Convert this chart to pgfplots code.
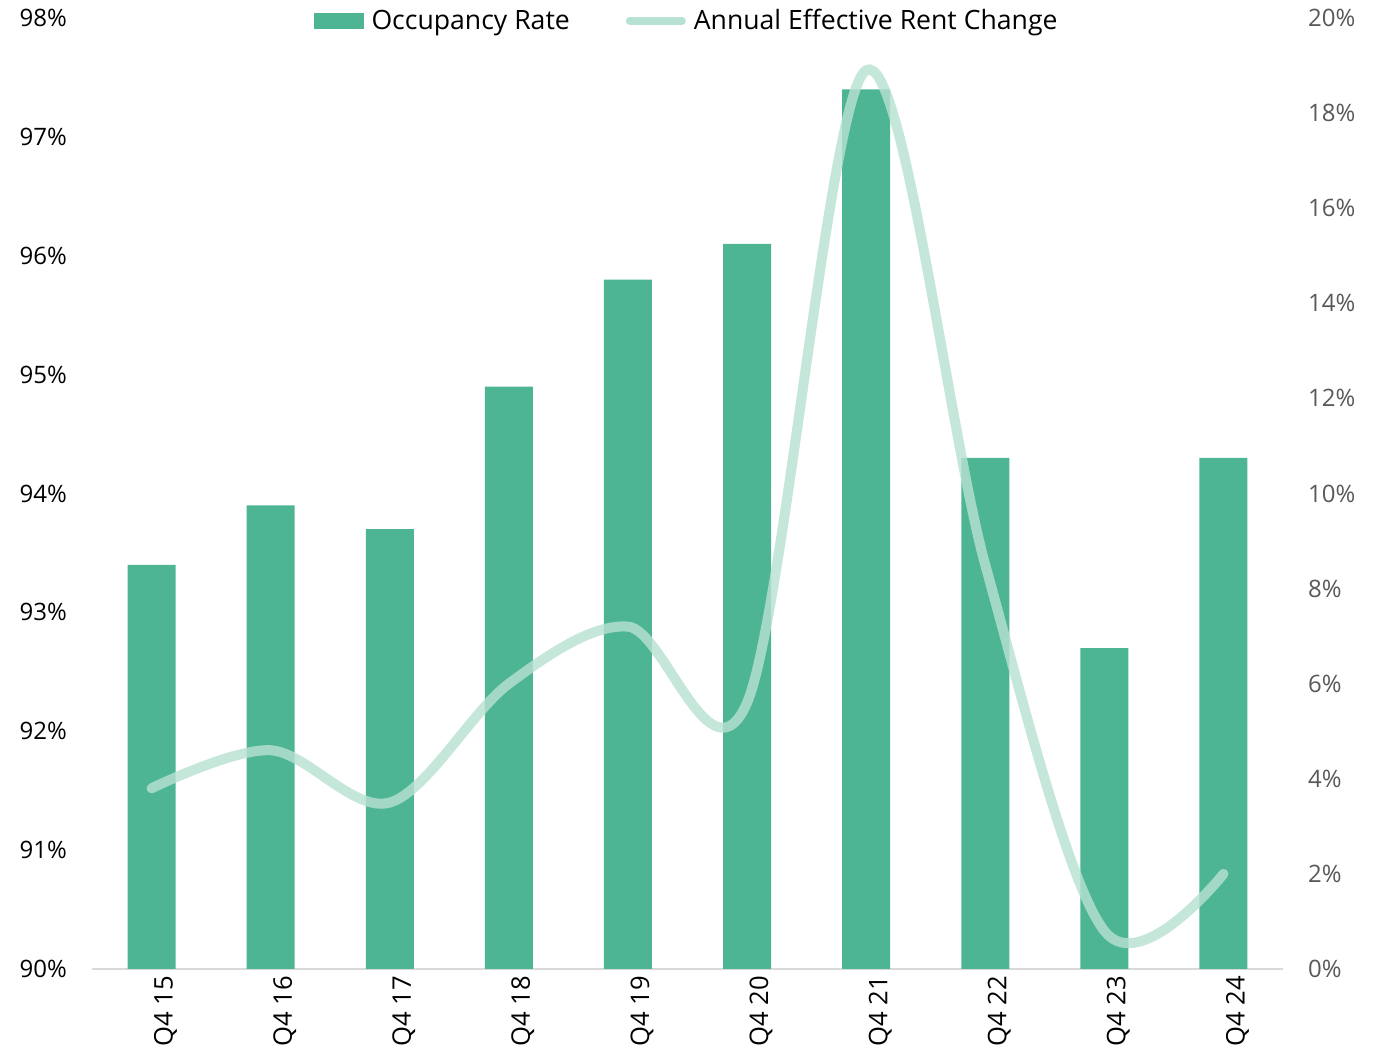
\documentclass[border=0pt]{standalone}
\usepackage{pgfplots}
\pgfplotsset{compat=1.18}
\usepackage{fontspec}
\setmainfont{Open Sans}
\definecolor{barc}{HTML}{4DB594}
\definecolor{linec}{HTML}{B7E1D2}
\definecolor{axgray}{HTML}{D9D9D9}
\definecolor{lblgray}{HTML}{595959}
\begin{document}
\begin{tikzpicture}
\pgfplotsset{
  every tick label/.append style={font=\fontsize{12}{14}\selectfont},
  /pgf/number format/assume math mode=true,
}
\begin{axis}[
  name=main,
  scale only axis,
  width=595.5pt, height=475.5pt,
  xmin=-0.5, xmax=9.5,
  ymin=90, ymax=98,
  xtick={0,...,9},
  xticklabels={Q4 15,Q4 16,Q4 17,Q4 18,Q4 19,Q4 20,Q4 21,Q4 22,Q4 23,Q4 24},
  xticklabel style={rotate=90, anchor=east, yshift=-7pt, text=black, font=\fontsize{12.8}{14}\selectfont},
  ytick={90,...,98},
  yticklabels={90\%,91\%,92\%,93\%,94\%,95\%,96\%,97\%,98\%},
  yticklabel style={xshift=-9pt, text=black},
  major tick length=0pt,
  axis x line*=bottom, axis y line*=left,
  separate axis lines,
  x axis line style={draw=axgray, line width=1pt, -},
  y axis line style={draw=none},
  legend columns=2,
  legend style={at={(0.5,1)}, anchor=center, yshift=-1.5pt, draw=none, fill=none,
    font=\fontsize{13.3}{15}\selectfont,
    /tikz/every odd column/.append style={column sep=2pt},
    /tikz/every even column/.append style={column sep=26pt}},
  legend cell align=left,
]
\addplot[ybar, bar width=24pt, fill=barc, draw=none,
  legend image code/.code={\fill[barc] (0pt,-4pt) rectangle (25pt,4pt);}]
  coordinates {(0,93.4) (1,93.9) (2,93.7) (3,94.9) (4,95.8) (5,96.1) (6,97.4) (7,94.3) (8,92.7) (9,94.3)};
\addlegendentry{Occupancy Rate}
\addlegendimage{legend image code/.code={\draw[linec, line width=4pt, line cap=round] (1pt,0pt) -- (27pt,0pt);}}
\addlegendentry{Annual Effective Rent Change}
\end{axis}
\begin{axis}[
  scale only axis,
  width=595.5pt, height=475.5pt,
  xmin=-0.5, xmax=9.5,
  ymin=0, ymax=20,
  ytick={0,2,...,20},
  yticklabels={0\%,2\%,4\%,6\%,8\%,10\%,12\%,14\%,16\%,18\%,20\%},
  yticklabel style={xshift=9pt, text=lblgray},
  major tick length=0pt,
  axis x line=none, axis y line*=right,
  y axis line style={draw=none},
]
\addplot[linec, line width=5pt, line cap=round, smooth, tension=0.55, opacity=0.81]
  coordinates {(0,3.8) (1,4.6) (2,3.5) (3,6.0) (4,7.2) (5,5.6) (6,18.9) (7,8.5) (8,0.8) (9,2.0)};
\end{axis}
\pgfresetboundingbox
\path (main.south west) ++(-46pt,-43.5pt) coordinate (bl);
\path (main.north east) ++(50pt,9pt) coordinate (tr);
\path (bl) rectangle (tr);
\end{tikzpicture}
\end{document}
